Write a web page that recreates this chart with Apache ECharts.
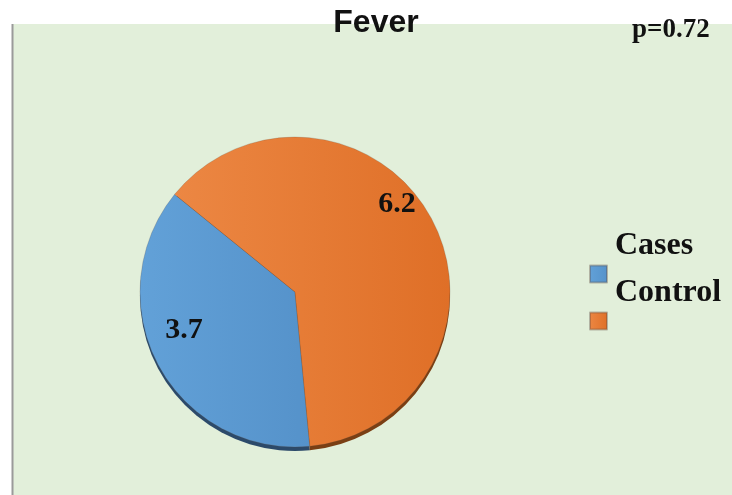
<!DOCTYPE html>
<html>
<head>
<meta charset="utf-8">
<script src="https://cdn.jsdelivr.net/npm/echarts@6/dist/echarts.min.js"></script>
<style>
  html, body { margin: 0; padding: 0; background: #ffffff; }
  #chart { width: 732px; height: 495px; }
</style>
</head>
<body>
<div id="chart"></div>
<script>
// Fever: share among cases vs control
const categories = ['Cases', 'Control'];
const values = [3.7, 6.2];
const pValueText = 'p=0.72';

const faceColors = [
  new echarts.graphic.LinearGradient(0, 0, 1, 0, [
    { offset: 0, color: '#62a1d8' }, { offset: 1, color: '#5592ca' }
  ]),
  new echarts.graphic.LinearGradient(0, 0, 1, 0, [
    { offset: 0, color: '#ec8743' }, { offset: 1, color: '#df6f27' }
  ])
];
const rimColors = ['#2c4a6a', '#7a3f14'];
// nudges for the in-slice value labels
const labelShift = [[-40, 0], [31, -50]];

const serif = '"Liberation Serif", "Times New Roman", serif';

const chart = echarts.init(document.getElementById('chart'), null, { renderer: 'canvas' });

chart.setOption({
  animation: false,
  backgroundColor: '#ffffff',
  graphic: [
    {
      type: 'rect', z: -10,
      shape: { x: 12, y: 24, width: 720, height: 471 },
      style: { fill: '#e2efda' }
    },
    {
      type: 'line', z: -9,
      shape: { x1: 12.5, y1: 24, x2: 12.5, y2: 495 },
      style: { stroke: '#9a9a9a', lineWidth: 2 }
    },
    {
      type: 'text', left: 632, top: 17,
      style: { text: pValueText, font: 'bold 27px ' + serif, fill: '#111' }
    }
  ],
  title: {
    text: 'Fever',
    left: 371, top: 2,
    textAlign: 'center',
    textStyle: { fontFamily: '"Liberation Sans", Arial, sans-serif', fontWeight: 'bold', fontSize: 32, color: '#111' }
  },
  legend: {
    orient: 'vertical',
    left: 584, top: 225,
    itemWidth: 17, itemHeight: 17,
    itemGap: -31,
    icon: 'rect',
    data: categories,
    // name sits on the upper line, the marker lines up with the blank lower line
    formatter: name => '{n|' + name + '}\n{e| }',
    textStyle: {
      rich: {
        n: { fontFamily: serif, fontWeight: 'bold', fontSize: 32, color: '#111', lineHeight: 56, padding: [0, 0, 0, 3] },
        e: { fontSize: 12, lineHeight: 56 }
      }
    }
  },
  series: [
    {
      // darker edge under the face
      type: 'pie',
      silent: true,
      radius: 155,
      center: [295, 296],
      startAngle: 275.5,
      clockwise: true,
      label: { show: false },
      labelLine: { show: false },
      legendHoverLink: false,
      data: categories.map((name, i) => ({
        name: name + ' edge', value: values[i],
        itemStyle: { color: rimColors[i] }
      })),
      z: 1
    },
    {
      type: 'pie',
      radius: 155,
      center: [295, 292],
      startAngle: 275.5,
      clockwise: true,
      itemStyle: { borderColor: 'rgba(90,70,60,0.35)', borderWidth: 0.6 },
      label: {
        show: true,
        position: 'inside',
        formatter: p => p.value,
        fontFamily: serif, fontWeight: 'bold', fontSize: 30, color: '#111'
      },
      labelLine: { show: false },
      labelLayout: p => ({ dx: labelShift[p.dataIndex][0], dy: labelShift[p.dataIndex][1] }),
      data: categories.map((name, i) => ({
        name: name, value: values[i],
        itemStyle: { color: faceColors[i] }
      })),
      z: 2
    }
  ]
});
</script>
</body>
</html>
